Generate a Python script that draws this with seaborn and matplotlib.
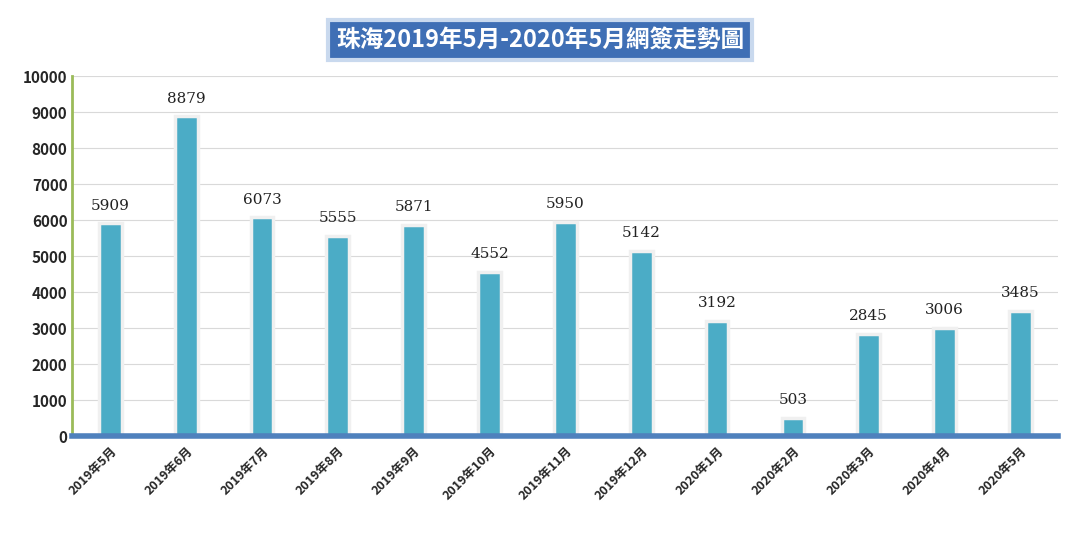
import matplotlib
matplotlib.use("Agg")
import matplotlib.pyplot as plt
import seaborn as sns
import pandas as pd

months = ['2019年5月', '2019年6月', '2019年7月', '2019年8月', '2019年9月', '2019年10月',
          '2019年11月', '2019年12月', '2020年1月', '2020年2月', '2020年3月', '2020年4月', '2020年5月']
signed = [5909, 8879, 6073, 5555, 5871, 4552, 5950, 5142, 3192, 503, 2845, 3006, 3485]
title = '珠海2019年5月-2020年5月網簽走勢圖'

sns.set_style('white')
plt.rcParams['font.family'] = ['Noto Sans CJK TC', 'DejaVu Sans']

df = pd.DataFrame({'month': months, 'count': signed})

fig = plt.figure(figsize=(10.8, 5.34), dpi=100)
ax = fig.add_axes([0.067, 0.1835, 0.913, 0.674])
sns.barplot(data=df, x='month', y='count', color='#4bacc6', width=0.3,
            edgecolor='#f0f0f0', linewidth=2.5, saturation=1, ax=ax)

for i, v in enumerate(signed):
    ax.text(i, v + 300, str(v), ha='center', va='bottom', fontsize=11,
            family=['DejaVu Serif'], color='#222222')

ax.set_ylim(0, 10000)
ax.set_yticks(range(0, 10001, 1000))
ax.set_yticklabels([str(t) for t in range(0, 10001, 1000)], fontsize=11, fontweight='bold')
ax.set_xticks(range(len(months)))
ax.set_xticklabels(months, rotation=45, ha='right', rotation_mode='anchor',
                   fontsize=9, fontweight='bold')
ax.set_xlim(-0.5, len(months) - 0.5)
ax.set_xlabel('')
ax.set_ylabel('')
ax.grid(axis='y', color='#d9d9d9', linewidth=0.8)
ax.set_axisbelow(True)
for s in ['top', 'right']:
    ax.spines[s].set_visible(False)
ax.spines['left'].set_color('#9bbb59')
ax.spines['left'].set_linewidth(2)
ax.spines['bottom'].set_color('#4f81bd')
ax.spines['bottom'].set_linewidth(4)
ax.tick_params(axis='x', length=0, pad=6)
ax.tick_params(axis='y', length=0)

fig.text(0.5, 0.925, title, ha='center', va='center', fontsize=17, fontweight='bold',
         color='white',
         bbox=dict(boxstyle='square,pad=0.35', facecolor='#3f6fb5', edgecolor='#c9d9ee', linewidth=3))

fig.savefig('out.png', dpi=100)
